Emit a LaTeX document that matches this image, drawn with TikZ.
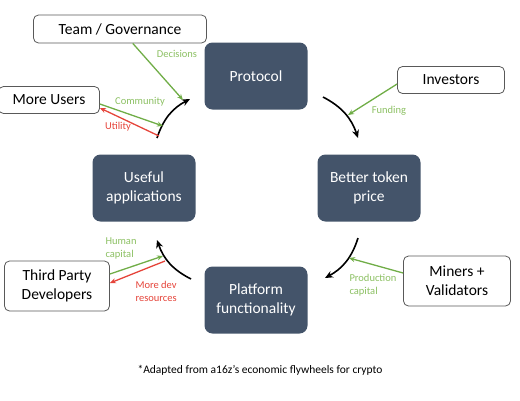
\documentclass[tikz,border=0pt]{standalone}
\usepackage{fontspec}
\setmainfont{Carlito}
\usetikzlibrary{arrows.meta}
\definecolor{hubblue}{HTML}{44546A}
\definecolor{flowgreen}{HTML}{70AD47}
\definecolor{textgreen}{HTML}{8CC063}
\definecolor{flowred}{HTML}{E5443A}
\definecolor{boxgray}{HTML}{595959}

\tikzset{
  hub/.style={fill=hubblue, rounded corners=8pt, text=white, align=center,
    minimum width=103pt, minimum height=67pt, font=\fontsize{15.5}{19}\selectfont},
  actor/.style={draw=boxgray, line width=0.8pt, rounded corners=5pt, fill=white,
    align=center, font=\fontsize{15.5}{19}\selectfont},
  cycle/.style={-{Stealth[length=8pt,width=7pt]}, line width=1.6pt, bend left=22},
  gflow/.style={-{Stealth[length=6pt,width=5pt]}, flowgreen, line width=1.3pt},
  rflow/.style={-{Stealth[length=6pt,width=5pt]}, flowred, line width=1.3pt},
  glabel/.style={text=textgreen, font=\fontsize{10.5}{13}\selectfont, align=left},
  rlabel/.style={text=flowred, font=\fontsize{10.5}{13}\selectfont, align=left}
}

\begin{document}
\begin{tikzpicture}[x=1pt, y=-1pt]
  \useasboundingbox (0,0) rectangle (520,400);
  % the flywheel
  \node[hub] (protocol) at (256,76) {Protocol};
  \node[hub] (price) at (369,188) {Better token\\price};
  \node[hub] (platform) at (256,300) {Platform\\functionality};
  \node[hub] (apps) at (144,188) {Useful\\applications};
  \draw[cycle] (157,138) to (190,99);
  \draw[cycle] (323,97) to (358,138);
  \draw[cycle] (358,238) to (325,278);
  \draw[cycle] (191,279) to (157,240);
  % outside actors
  \node[actor, minimum width=173pt, minimum height=28pt] (team) at (120,29) {Team / Governance};
  \node[actor, minimum width=101pt, minimum height=27pt] (users) at (49,100) {More Users};
  \node[actor, minimum width=107pt, minimum height=27pt] (investors) at (451,80) {Investors};
  \node[actor, minimum width=105pt, minimum height=50pt] (devs) at (57,286) {Third Party\\Developers};
  \node[actor, minimum width=107pt, minimum height=50pt] (miners) at (457,281) {Miners +\\Validators};
  % free ends of the flows
  \coordinate (decEnd) at (183,100);
  \coordinate (commEnd) at (163,126);
  \coordinate (utilStart) at (159,136);
  \coordinate (fundEnd) at (348,115);
  \coordinate (prodEnd) at (349,258);
  \coordinate (humEnd) at (163,256);
  \coordinate (resStart) at (165,261);
  % flows
  \draw[gflow] (team) -- (decEnd);
  \draw[gflow] ([yshift=-4pt]users.east) -- (commEnd);
  \draw[rflow] (utilStart) -- ([yshift=-8pt]users.east);
  \draw[gflow] ([yshift=-4pt]investors.west) -- (fundEnd);
  \draw[gflow] ([yshift=8pt]miners.west) -- (prodEnd);
  \draw[gflow] ([yshift=12pt]devs.east) -- (humEnd);
  \draw[rflow] (resStart) -- ([yshift=3pt]devs.east);
  % flow labels
  \node[glabel] (decisions) at (177,54) {Decisions};
  \node[glabel] (community) at (140,102) {Community};
  \node[rlabel] (utility) at (118,127) {Utility};
  \node[glabel] (funding) at (389,111) {Funding};
  \node[glabel, anchor=west] (production) at (346,285) {Production\\capital};
  \node[glabel, anchor=west] (human) at (102,248) {Human\\capital};
  \node[rlabel, anchor=west] (resources) at (132,291) {More dev\\resources};
  % source note
  \node[font=\fontsize{11.5}{14}\selectfont] (note) at (260,370) {*Adapted from a16z’s economic flywheels for crypto};
\end{tikzpicture}
\end{document}
